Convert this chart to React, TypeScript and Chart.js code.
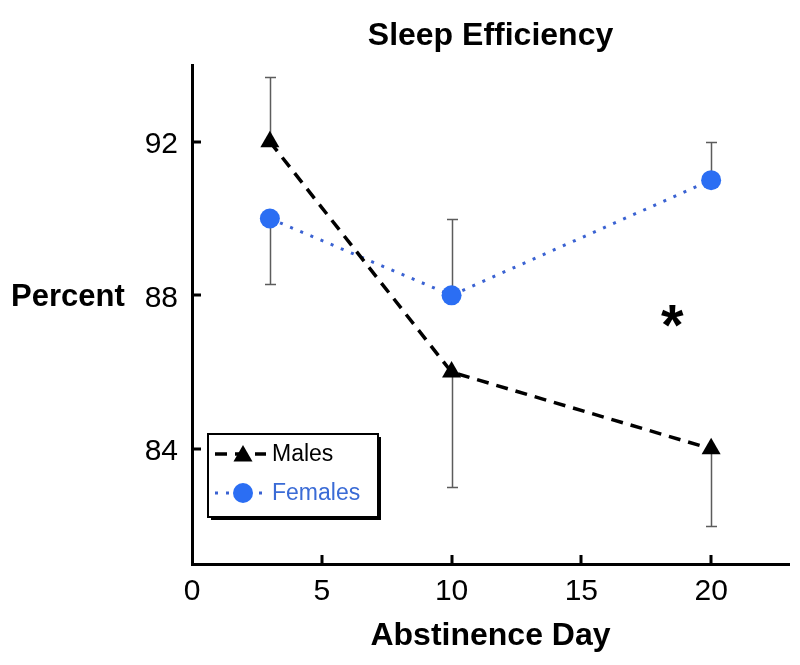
import React, { useEffect, useRef } from 'react';
import { Chart, registerables } from 'chart.js';

Chart.register(...registerables);

const FONT = '"Liberation Sans", Arial, Helvetica, sans-serif';

// ---- data ----
const days = [3, 10, 20];
const males = [92, 86, 84];
const females = [90, 88, 91];
// one-sided error bars: end value of each bar
const malesErrEnd = [93.7, 83.0, 82.0];
const femalesErrEnd = [88.3, 90.0, 92.0];
const xTickValues = [0, 5, 10, 15, 20];
const yTickValues = [84, 88, 92];
const seriesNames = ['Males', 'Females'];
const titleText = 'Sleep Efficiency';
const xTitleText = 'Abstinence Day';
const yTitleText = 'Percent';
const sigMark = { x: 18.5, y: 87.5, text: '*' };

const MALE_COLOR = '#000000';
const FEMALE_POINT = '#2b6ef3';
const FEMALE_LINE = '#3a62d2';
const FEMALE_TEXT = '#3a6bd6';

const customPlugin = {
  id: 'customDecor',
  beforeDatasetsDraw(chart: any) {
    const ctx = chart.ctx;
    const xs = chart.scales.x;
    const ys = chart.scales.y;
    ctx.save();
    ctx.strokeStyle = '#5c5c5c';
    ctx.lineWidth = 1.5;
    const sets: [number[], number[]][] = [
      [males, malesErrEnd],
      [females, femalesErrEnd],
    ];
    sets.forEach(([vals, ends]) => {
      vals.forEach((v, i) => {
        const px = Math.round(xs.getPixelForValue(days[i])) + 0.5;
        const y0 = ys.getPixelForValue(v);
        const y1 = Math.round(ys.getPixelForValue(ends[i])) + 0.5;
        ctx.beginPath();
        ctx.moveTo(px, y0);
        ctx.lineTo(px, y1);
        ctx.moveTo(px - 5.5, y1);
        ctx.lineTo(px + 5.5, y1);
        ctx.stroke();
      });
    });
    ctx.restore();
  },
  afterDraw(chart: any) {
    const ctx = chart.ctx;
    const xs = chart.scales.x;
    const ys = chart.scales.y;
    const area = chart.chartArea;
    ctx.save();
    // inward tick marks
    ctx.strokeStyle = '#000';
    ctx.lineWidth = 3;
    ctx.beginPath();
    yTickValues.forEach((v) => {
      const py = Math.round(ys.getPixelForValue(v));
      ctx.moveTo(area.left, py);
      ctx.lineTo(area.left + 9, py);
    });
    xTickValues.forEach((v) => {
      if (v === xs.min) return;
      const px = Math.round(xs.getPixelForValue(v));
      ctx.moveTo(px, area.bottom);
      ctx.lineTo(px, area.bottom - 9);
    });
    ctx.stroke();

    // horizontal y-axis title
    ctx.fillStyle = '#000';
    ctx.font = `bold 31px ${FONT}`;
    ctx.textAlign = 'left';
    ctx.textBaseline = 'alphabetic';
    ctx.fillText(yTitleText, 11, ys.getPixelForValue(88) + 11);

    // significance mark
    ctx.font = `bold 58px ${FONT}`;
    ctx.textAlign = 'center';
    ctx.fillText(sigMark.text, xs.getPixelForValue(sigMark.x), ys.getPixelForValue(sigMark.y) + 30);

    // legend box
    const L = 208, T = 434, W = 170, H = 83;
    ctx.fillStyle = '#000';
    ctx.fillRect(L + 3, T + 3, W, H);
    ctx.fillStyle = '#fff';
    ctx.fillRect(L, T, W, H);
    ctx.strokeStyle = '#000';
    ctx.lineWidth = 2;
    ctx.strokeRect(L, T, W, H);

    const rows = [T + 20, T + 59];
    chart.data.datasets.forEach((ds: any, i: number) => {
      const y = rows[i];
      ctx.save();
      ctx.strokeStyle = ds.borderColor;
      ctx.lineWidth = ds.borderWidth;
      ctx.setLineDash(ds.borderDash || []);
      ctx.beginPath();
      ctx.moveTo(L + 7, y);
      ctx.lineTo(L + 58, y);
      ctx.stroke();
      ctx.restore();
      ctx.save();
      ctx.fillStyle = ds.pointBackgroundColor;
      const r = ds.pointRadius;
      ctx.beginPath();
      if (ds.pointStyle === 'triangle') {
        const cx = L + 35, cy = y + 2;
        ctx.moveTo(cx, cy - r);
        ctx.lineTo(cx + r * 0.866, cy + r * 0.5);
        ctx.lineTo(cx - r * 0.866, cy + r * 0.5);
        ctx.closePath();
      } else {
        ctx.arc(L + 35, y, r, 0, Math.PI * 2);
      }
      ctx.fill();
      ctx.restore();
      ctx.fillStyle = i === 0 ? '#000' : FEMALE_TEXT;
      ctx.font = `23px ${FONT}`;
      ctx.textAlign = 'left';
      ctx.textBaseline = 'middle';
      ctx.fillText(seriesNames[i], L + 64, y + 1);
    });
    ctx.restore();
  },
};

export default function App() {
  const ref = useRef<HTMLCanvasElement>(null);
  useEffect(() => {
    document.body.style.margin = '0';
    const canvas = ref.current!;
    const chart = new Chart(canvas, {
      type: 'line',
      data: {
        datasets: [
          {
            label: seriesNames[0],
            data: days.map((d, i) => ({ x: d, y: males[i] })),
            borderColor: MALE_COLOR,
            borderWidth: 3.5,
            borderDash: [12, 8],
            pointStyle: 'triangle',
            pointRadius: 11,
            pointBackgroundColor: MALE_COLOR,
            pointBorderColor: MALE_COLOR,
            pointBorderWidth: 0,
            tension: 0,
          },
          {
            label: seriesNames[1],
            data: days.map((d, i) => ({ x: d, y: females[i] })),
            borderColor: FEMALE_LINE,
            borderWidth: 3,
            borderDash: [3, 8],
            pointStyle: 'circle',
            pointRadius: 10,
            pointBackgroundColor: FEMALE_POINT,
            pointBorderColor: FEMALE_POINT,
            pointBorderWidth: 0,
            tension: 0,
          },
        ],
      },
      options: {
        responsive: false,
        animation: false,
        events: [],
        layout: { padding: { left: 0, right: 8, top: 0, bottom: 0 } },
        font: { family: FONT },
        plugins: {
          legend: { display: false },
          tooltip: { enabled: false },
          title: {
            display: true,
            text: titleText,
            fullSize: false,
            color: '#000',
            font: { family: FONT, size: 32, weight: 'bold' },
            padding: { top: 17, bottom: 9.6 },
          },
        },
        scales: {
          x: {
            type: 'linear',
            min: 0,
            max: 23,
            afterBuildTicks: (s: any) => {
              s.ticks = xTickValues.map((v) => ({ value: v }));
            },
            afterFit: (s: any) => {
              s.height = 101;
            },
            grid: { display: false, drawTicks: false },
            border: { display: true, color: '#000', width: 3 },
            ticks: {
              color: '#000',
              font: { family: FONT, size: 30 },
              padding: 10,
              maxRotation: 0,
            },
            title: {
              display: true,
              text: xTitleText,
              color: '#000',
              font: { family: FONT, size: 32, weight: 'bold' },
              padding: { top: 0, bottom: 10 },
            },
          },
          y: {
            type: 'linear',
            min: 81,
            max: 94,
            afterBuildTicks: (s: any) => {
              s.ticks = yTickValues.map((v) => ({ value: v }));
            },
            afterFit: (s: any) => {
              s.width = 192;
            },
            grid: { display: false, drawTicks: false },
            border: { display: true, color: '#000', width: 3 },
            ticks: {
              color: '#000',
              font: { family: FONT, size: 30 },
              padding: 14,
              labelOffset: 3,
            },
          },
        },
      } as any,
      plugins: [customPlugin],
    });
    return () => chart.destroy();
  }, []);
  return <canvas ref={ref} width={800} height={665} style={{ display: 'block' }} />;
}
